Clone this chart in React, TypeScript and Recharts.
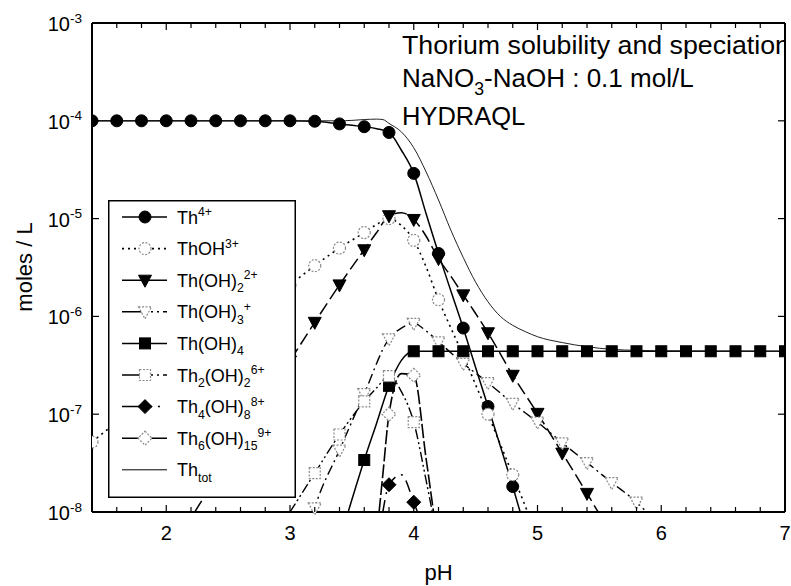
import React from 'react';
import { LineChart, Line, XAxis, YAxis, Legend, Customized } from 'recharts';

const FONT = '"Liberation Sans", Arial, Helvetica, sans-serif';

type Pt = [number, number];

// pH, concentration (moles / L)
const TH4: Pt[] = [
  [1.4, 1.0e-4], [1.6, 1.0e-4], [1.8, 1.0e-4], [2.0, 1.0e-4], [2.2, 1.0e-4], [2.4, 1.0e-4],
  [2.6, 1.0e-4], [2.8, 1.0e-4], [3.0, 1.0e-4], [3.2, 9.9e-5], [3.4, 9.3e-5], [3.6, 8.7e-5],
  [3.7, 8.3e-5], [3.8, 7.6e-5], [3.9, 5.0e-5], [4.0, 2.9e-5], [4.1, 1.12e-5], [4.2, 4.4e-6],
  [4.3, 1.82e-6], [4.4, 7.6e-7], [4.5, 3.0e-7], [4.6, 1.2e-7], [4.7, 4.7e-8], [4.8, 1.82e-8],
  [4.86, 1.0e-8],
];

const THOH: Pt[] = [
  [1.4, 5.2e-8], [1.6, 8.3e-8], [1.8, 1.32e-7], [2.0, 2.09e-7], [2.2, 3.3e-7], [2.4, 5.2e-7],
  [2.6, 8.3e-7], [2.8, 1.32e-6], [3.0, 2.09e-6], [3.2, 3.3e-6], [3.4, 5.0e-6], [3.6, 7.2e-6],
  [3.7, 8.7e-6], [3.8, 1.0e-5], [3.9, 8.5e-6], [4.0, 6.0e-6], [4.1, 3.2e-6], [4.2, 1.48e-6],
  [4.3, 7.6e-7], [4.4, 4.0e-7], [4.5, 2.0e-7], [4.6, 1.0e-7], [4.7, 4.9e-8], [4.8, 2.4e-8],
  [4.92, 1.0e-8],
];

const THOH2: Pt[] = [
  [2.23, 1.0e-8], [2.4, 2.2e-8], [2.6, 5.5e-8], [2.8, 1.38e-7], [3.0, 3.5e-7], [3.2, 8.7e-7],
  [3.4, 2.1e-6], [3.6, 4.8e-6], [3.7, 7.2e-6], [3.8, 1.07e-5], [3.9, 1.15e-5], [4.0, 9.8e-6],
  [4.1, 6.6e-6], [4.2, 3.9e-6], [4.3, 2.57e-6], [4.4, 1.66e-6], [4.5, 1.07e-6], [4.6, 6.8e-7],
  [4.8, 2.5e-7], [5.0, 1.02e-7], [5.2, 4.0e-8], [5.4, 1.55e-8], [5.49, 1.0e-8],
];

const THOH3: Pt[] = [
  [3.19, 1.0e-8], [3.2, 1.1e-8], [3.4, 4.3e-8], [3.6, 1.62e-7], [3.8, 5.9e-7], [3.9, 7.6e-7],
  [4.0, 8.5e-7], [4.1, 7.1e-7], [4.2, 5.5e-7], [4.4, 3.3e-7], [4.6, 2.1e-7], [4.8, 1.29e-7],
  [5.0, 8.3e-8], [5.2, 5.1e-8], [5.4, 3.2e-8], [5.6, 2.0e-8], [5.8, 1.26e-8], [5.88, 1.0e-8],
];

const THOH4: Pt[] = [
  [3.47, 1.0e-8], [3.6, 3.4e-8], [3.7, 8.1e-8], [3.8, 1.95e-7], [3.9, 3.55e-7], [3.95, 4.17e-7],
  [4.0, 4.4e-7], [4.2, 4.4e-7], [4.4, 4.4e-7], [4.6, 4.4e-7], [4.8, 4.4e-7], [5.0, 4.4e-7],
  [5.2, 4.4e-7], [5.4, 4.4e-7], [5.6, 4.4e-7], [5.8, 4.4e-7], [6.0, 4.4e-7], [6.2, 4.4e-7],
  [6.4, 4.4e-7], [6.6, 4.4e-7], [6.8, 4.4e-7], [7.0, 4.4e-7],
];

const TH2OH2: Pt[] = [
  [3.0, 1.0e-8], [3.2, 2.5e-8], [3.4, 6.2e-8], [3.6, 1.35e-7], [3.7, 1.86e-7], [3.8, 2.45e-7],
  [3.9, 1.7e-7], [4.0, 8.3e-8], [4.1, 2.1e-8], [4.15, 1.0e-8],
];

const TH4OH8: Pt[] = [
  [3.75, 1.0e-8], [3.8, 1.9e-8], [3.9, 2.4e-8], [4.0, 1.26e-8], [4.03, 1.0e-8],
];

const TH6OH15: Pt[] = [
  [3.72, 1.0e-8], [3.75, 2.4e-8], [3.8, 1.0e-7], [3.9, 2.6e-7], [4.0, 2.5e-7], [4.1, 3.5e-8],
  [4.16, 1.0e-8],
];

const THTOT: Pt[] = [
  [1.4, 1.0e-4], [2.0, 1.0e-4], [2.6, 1.0e-4], [3.0, 1.0e-4], [3.4, 1.0e-4], [3.5, 1.01e-4],
  [3.6, 1.03e-4], [3.7, 1.04e-4], [3.75, 1.03e-4], [3.8, 9.4e-5], [3.9, 7.7e-5], [4.0, 5.3e-5],
  [4.1, 3.0e-5], [4.2, 1.55e-5], [4.3, 7.6e-6], [4.4, 4.0e-6], [4.5, 2.24e-6], [4.6, 1.41e-6],
  [4.7, 1.0e-6], [4.8, 8.1e-7], [4.9, 7.0e-7], [5.0, 6.2e-7], [5.2, 5.4e-7], [5.4, 4.9e-7],
  [5.6, 4.6e-7], [5.8, 4.5e-7], [6.0, 4.45e-7], [7.0, 4.4e-7],
];

const X_TICKS = [
  1.6, 1.8, 2, 2.2, 2.4, 2.6, 2.8, 3, 3.2, 3.4, 3.6, 3.8, 4, 4.2, 4.4, 4.6, 4.8, 5,
  5.2, 5.4, 5.6, 5.8, 6, 6.2, 6.4, 6.6, 6.8, 7,
];
const Y_TICKS = [1e-8, 1e-7, 1e-6, 1e-5, 1e-4, 1e-3];
const Y_EXPONENTS = ['-8', '-7', '-6', '-5', '-4', '-3'];

type Seg = { t: string; k?: 'sub' | 'sup' };

function Rich({ x, y, size, segs, anchor = 'start' }: { x: number; y: number; size: number; segs: Seg[]; anchor?: 'start' | 'middle' | 'end' }) {
  const small = size * 0.68;
  let shift = 0;
  return (
    <text x={x} y={y} fontSize={size} fontFamily={FONT} textAnchor={anchor} fill="#000">
      {segs.map((s, i) => {
        const target = s.k === 'sup' ? -size * 0.42 : s.k === 'sub' ? size * 0.3 : 0;
        const dy = target - shift;
        shift = target;
        return (
          <tspan key={i} dy={dy} fontSize={s.k ? small : size}>
            {s.t}
          </tspan>
        );
      })}
    </text>
  );
}

type Shape = 'circle' | 'triangle' | 'square' | 'diamond';
const OPEN_STROKE = '#8a8a8a';

function Marker({ cx, cy, shape, filled }: { cx: number; cy: number; shape: Shape; filled: boolean }) {
  const common = {
    fill: filled ? '#000' : '#fff',
    stroke: filled ? '#000' : OPEN_STROKE,
    strokeWidth: filled ? 1 : 1.2,
    strokeDasharray: filled ? undefined : '2 1.5',
  };
  if (shape === 'circle') return <circle cx={cx} cy={cy} r={6} {...common} />;
  if (shape === 'triangle')
    return <polygon points={`${cx - 6.5},${cy - 5} ${cx + 6.5},${cy - 5} ${cx},${cy + 7}`} {...common} />;
  if (shape === 'square') return <rect x={cx - 5.5} y={cy - 5.5} width={11} height={11} {...common} />;
  return <polygon points={`${cx},${cy - 7} ${cx + 7},${cy} ${cx},${cy + 7} ${cx - 7},${cy}`} {...common} />;
}

// markers sit on the 0.2 pH grid, only inside the plotted range
const onGrid = (ph: number) => Math.abs(ph * 5 - Math.round(ph * 5)) < 1e-6;

const makeDot = (shape: Shape, filled: boolean) => (props: any) => {
  const { cx, cy, payload, index } = props;
  if (!payload || !onGrid(payload.pH) || payload.v <= 1.0e-8 || cx == null || cy == null) {
    return <g key={`d-${index}`} />;
  }
  return (
    <g key={`d-${index}`}>
      <Marker cx={cx} cy={cy} shape={shape} filled={filled} />
    </g>
  );
};

type SeriesDef = {
  name: string;
  data: Pt[];
  shape?: Shape;
  filled?: boolean;
  dash?: string;
  legendDash?: string;
  width: number;
  label: Seg[];
};

const SERIES: SeriesDef[] = [
  { name: 'th4', data: TH4, shape: 'circle', filled: true, width: 1.5, label: [{ t: 'Th' }, { t: '4+', k: 'sup' }] },
  { name: 'thoh', data: THOH, shape: 'circle', filled: false, dash: '2 4', legendDash: '2 4', width: 1.6, label: [{ t: 'ThOH' }, { t: '3+', k: 'sup' }] },
  { name: 'thoh2', data: THOH2, shape: 'triangle', filled: true, dash: '13 5', width: 1.5, label: [{ t: 'Th(OH)' }, { t: '2', k: 'sub' }, { t: '2+', k: 'sup' }] },
  { name: 'thoh3', data: THOH3, shape: 'triangle', filled: false, dash: '10 4 2 4', legendDash: '24 5 2 4 2 4', width: 1.4, label: [{ t: 'Th(OH)' }, { t: '3', k: 'sub' }, { t: '+', k: 'sup' }] },
  { name: 'thoh4', data: THOH4, shape: 'square', filled: true, width: 1.5, label: [{ t: 'Th(OH)' }, { t: '4', k: 'sub' }] },
  { name: 'th2oh2', data: TH2OH2, shape: 'square', filled: false, dash: '10 3 2 3 2 3', legendDash: '24 5 2 4 2 4', width: 1.4, label: [{ t: 'Th' }, { t: '2', k: 'sub' }, { t: '(OH)' }, { t: '2', k: 'sub' }, { t: '6+', k: 'sup' }] },
  { name: 'th4oh8', data: TH4OH8, shape: 'diamond', filled: true, dash: '12 6 2 6', legendDash: '30 6 2 20', width: 1.5, label: [{ t: 'Th' }, { t: '4', k: 'sub' }, { t: '(OH)' }, { t: '8', k: 'sub' }, { t: '8+', k: 'sup' }] },
  { name: 'th6oh15', data: TH6OH15, shape: 'diamond', filled: false, dash: '14 3', legendDash: '18 9 30', width: 1.6, label: [{ t: 'Th' }, { t: '6', k: 'sub' }, { t: '(OH)' }, { t: '15', k: 'sub' }, { t: '9+', k: 'sup' }] },
  { name: 'thtot', data: THTOT, width: 1, label: [{ t: 'Th' }, { t: 'tot', k: 'sub' }] },
];

const rows = (pts: Pt[]) => pts.map(([pH, v]) => ({ pH, v }));

const isMajor = (v: number) => Math.abs(v - Math.round(v)) < 1e-6;

const BottomTick = (props: any) => {
  const { x, y, payload } = props;
  const v = payload.value as number;
  const major = isMajor(v);
  return (
    <g>
      <line x1={x} x2={x} y1={y} y2={y - (major ? 7 : 5)} stroke="#000" strokeWidth={1.2} />
      {major && (
        <text x={x} y={y + 28} textAnchor="middle" fontSize={20} fontFamily={FONT} fill="#000">
          {v}
        </text>
      )}
    </g>
  );
};

const TopTick = (props: any) => {
  const { x, y, payload } = props;
  const major = isMajor(payload.value);
  return <line x1={x} x2={x} y1={y} y2={y + (major ? 7 : 5)} stroke="#000" strokeWidth={1.2} />;
};

const LeftTick = (props: any) => {
  const { x, y, index } = props;
  return (
    <g>
      <line x1={x} x2={x + 7} y1={y} y2={y} stroke="#000" strokeWidth={1.2} />
      <Rich x={x - 10} y={y + 8} size={20} anchor="end" segs={[{ t: '10' }, { t: Y_EXPONENTS[index], k: 'sup' }]} />
    </g>
  );
};

const RightTick = (props: any) => {
  const { x, y } = props;
  return <line x1={x} x2={x - 7} y1={y} y2={y} stroke="#000" strokeWidth={1.2} />;
};

const LegendBox = () => (
  <svg width={188} height={298} style={{ display: 'block' }}>
    <rect x={0.75} y={0.75} width={186.5} height={296.5} fill="#fff" stroke="#000" strokeWidth={1.5} />
    {SERIES.map((s, i) => {
      const cy = 17 + i * 31.6;
      return (
        <g key={s.name}>
          <line x1={14} x2={59} y1={cy} y2={cy} stroke="#000" strokeWidth={s.width} strokeDasharray={s.legendDash} />
          {s.shape && <Marker cx={37} cy={cy} shape={s.shape} filled={!!s.filled} />}
          <Rich x={69} y={cy + 6.5} size={18} segs={s.label} />
        </g>
      );
    })}
  </svg>
);

// titles run up to the right frame and are cut there
const Annotations = () => (
  <g>
    <defs>
      <clipPath id="title-clip">
        <rect x={0} y={0} width={785} height={586} />
      </clipPath>
    </defs>
    <g clipPath="url(#title-clip)">
      <text x={402} y={54} fontSize={26} fontFamily={FONT} fill="#000" textLength={388} lengthAdjust="spacingAndGlyphs">
        Thorium solubility and speciation
      </text>
      <Rich x={402} y={87} size={26} segs={[{ t: 'NaNO' }, { t: '3', k: 'sub' }, { t: '-NaOH : 0.1 mol/L' }]} />
      <text x={402} y={125} fontSize={25.5} fontFamily={FONT} fill="#000">
        HYDRAQL
      </text>
    </g>
    <text x={438.5} y={580} fontSize={22} fontFamily={FONT} textAnchor="middle" fill="#000">
      pH
    </text>
    <text transform="translate(32,267) rotate(-90)" fontSize={22} fontFamily={FONT} textAnchor="middle" fill="#000">
      moles / L
    </text>
  </g>
);

const AXIS_LINE = { stroke: '#000', strokeWidth: 2 };

export default function App() {
  return (
    <div style={{ position: 'absolute', left: 0, top: 0, width: 791, height: 586, background: '#fff' }}>
      <LineChart width={791} height={586} margin={{ top: 22, right: 0, bottom: 0, left: 32 }}>
        <XAxis
          type="number"
          dataKey="pH"
          domain={[1.4, 7]}
          allowDataOverflow
          ticks={X_TICKS}
          interval={0}
          tickSize={0}
          tickMargin={0}
          tickLine={false}
          tick={BottomTick}
          axisLine={AXIS_LINE}
          height={74}
        />
        <XAxis
          xAxisId="top"
          orientation="top"
          type="number"
          dataKey="pH"
          domain={[1.4, 7]}
          allowDataOverflow
          ticks={X_TICKS}
          interval={0}
          tickSize={0}
          tickMargin={0}
          tickLine={false}
          tick={TopTick}
          axisLine={AXIS_LINE}
          height={1}
        />
        <YAxis
          scale="log"
          type="number"
          domain={[1e-8, 1e-3]}
          ticks={Y_TICKS}
          interval={0}
          tickSize={0}
          tickMargin={0}
          tickLine={false}
          tick={LeftTick}
          axisLine={AXIS_LINE}
          width={60}
        />
        <YAxis
          yAxisId="right"
          orientation="right"
          scale="log"
          type="number"
          domain={[1e-8, 1e-3]}
          allowDataOverflow
          ticks={Y_TICKS}
          interval={0}
          tickSize={0}
          tickMargin={0}
          tickLine={false}
          tick={RightTick}
          axisLine={AXIS_LINE}
          width={6}
        />
        <Customized component={Annotations} />
        {SERIES.map((s) => (
          <Line
            key={s.name}
            data={rows(s.data)}
            dataKey="v"
            type="monotone"
            stroke={s.name === 'thtot' ? '#222' : '#000'}
            strokeWidth={s.width}
            strokeDasharray={s.dash}
            dot={s.shape ? makeDot(s.shape, !!s.filled) : false}
            activeDot={false}
            legendType="none"
            isAnimationActive={false}
          />
        ))}
        <Legend
          layout="vertical"
          align="center"
          verticalAlign="middle"
          content={LegendBox}
          wrapperStyle={{ position: 'absolute', left: 108, top: 200, width: 188, height: 298 }}
        />
      </LineChart>
    </div>
  );
}
